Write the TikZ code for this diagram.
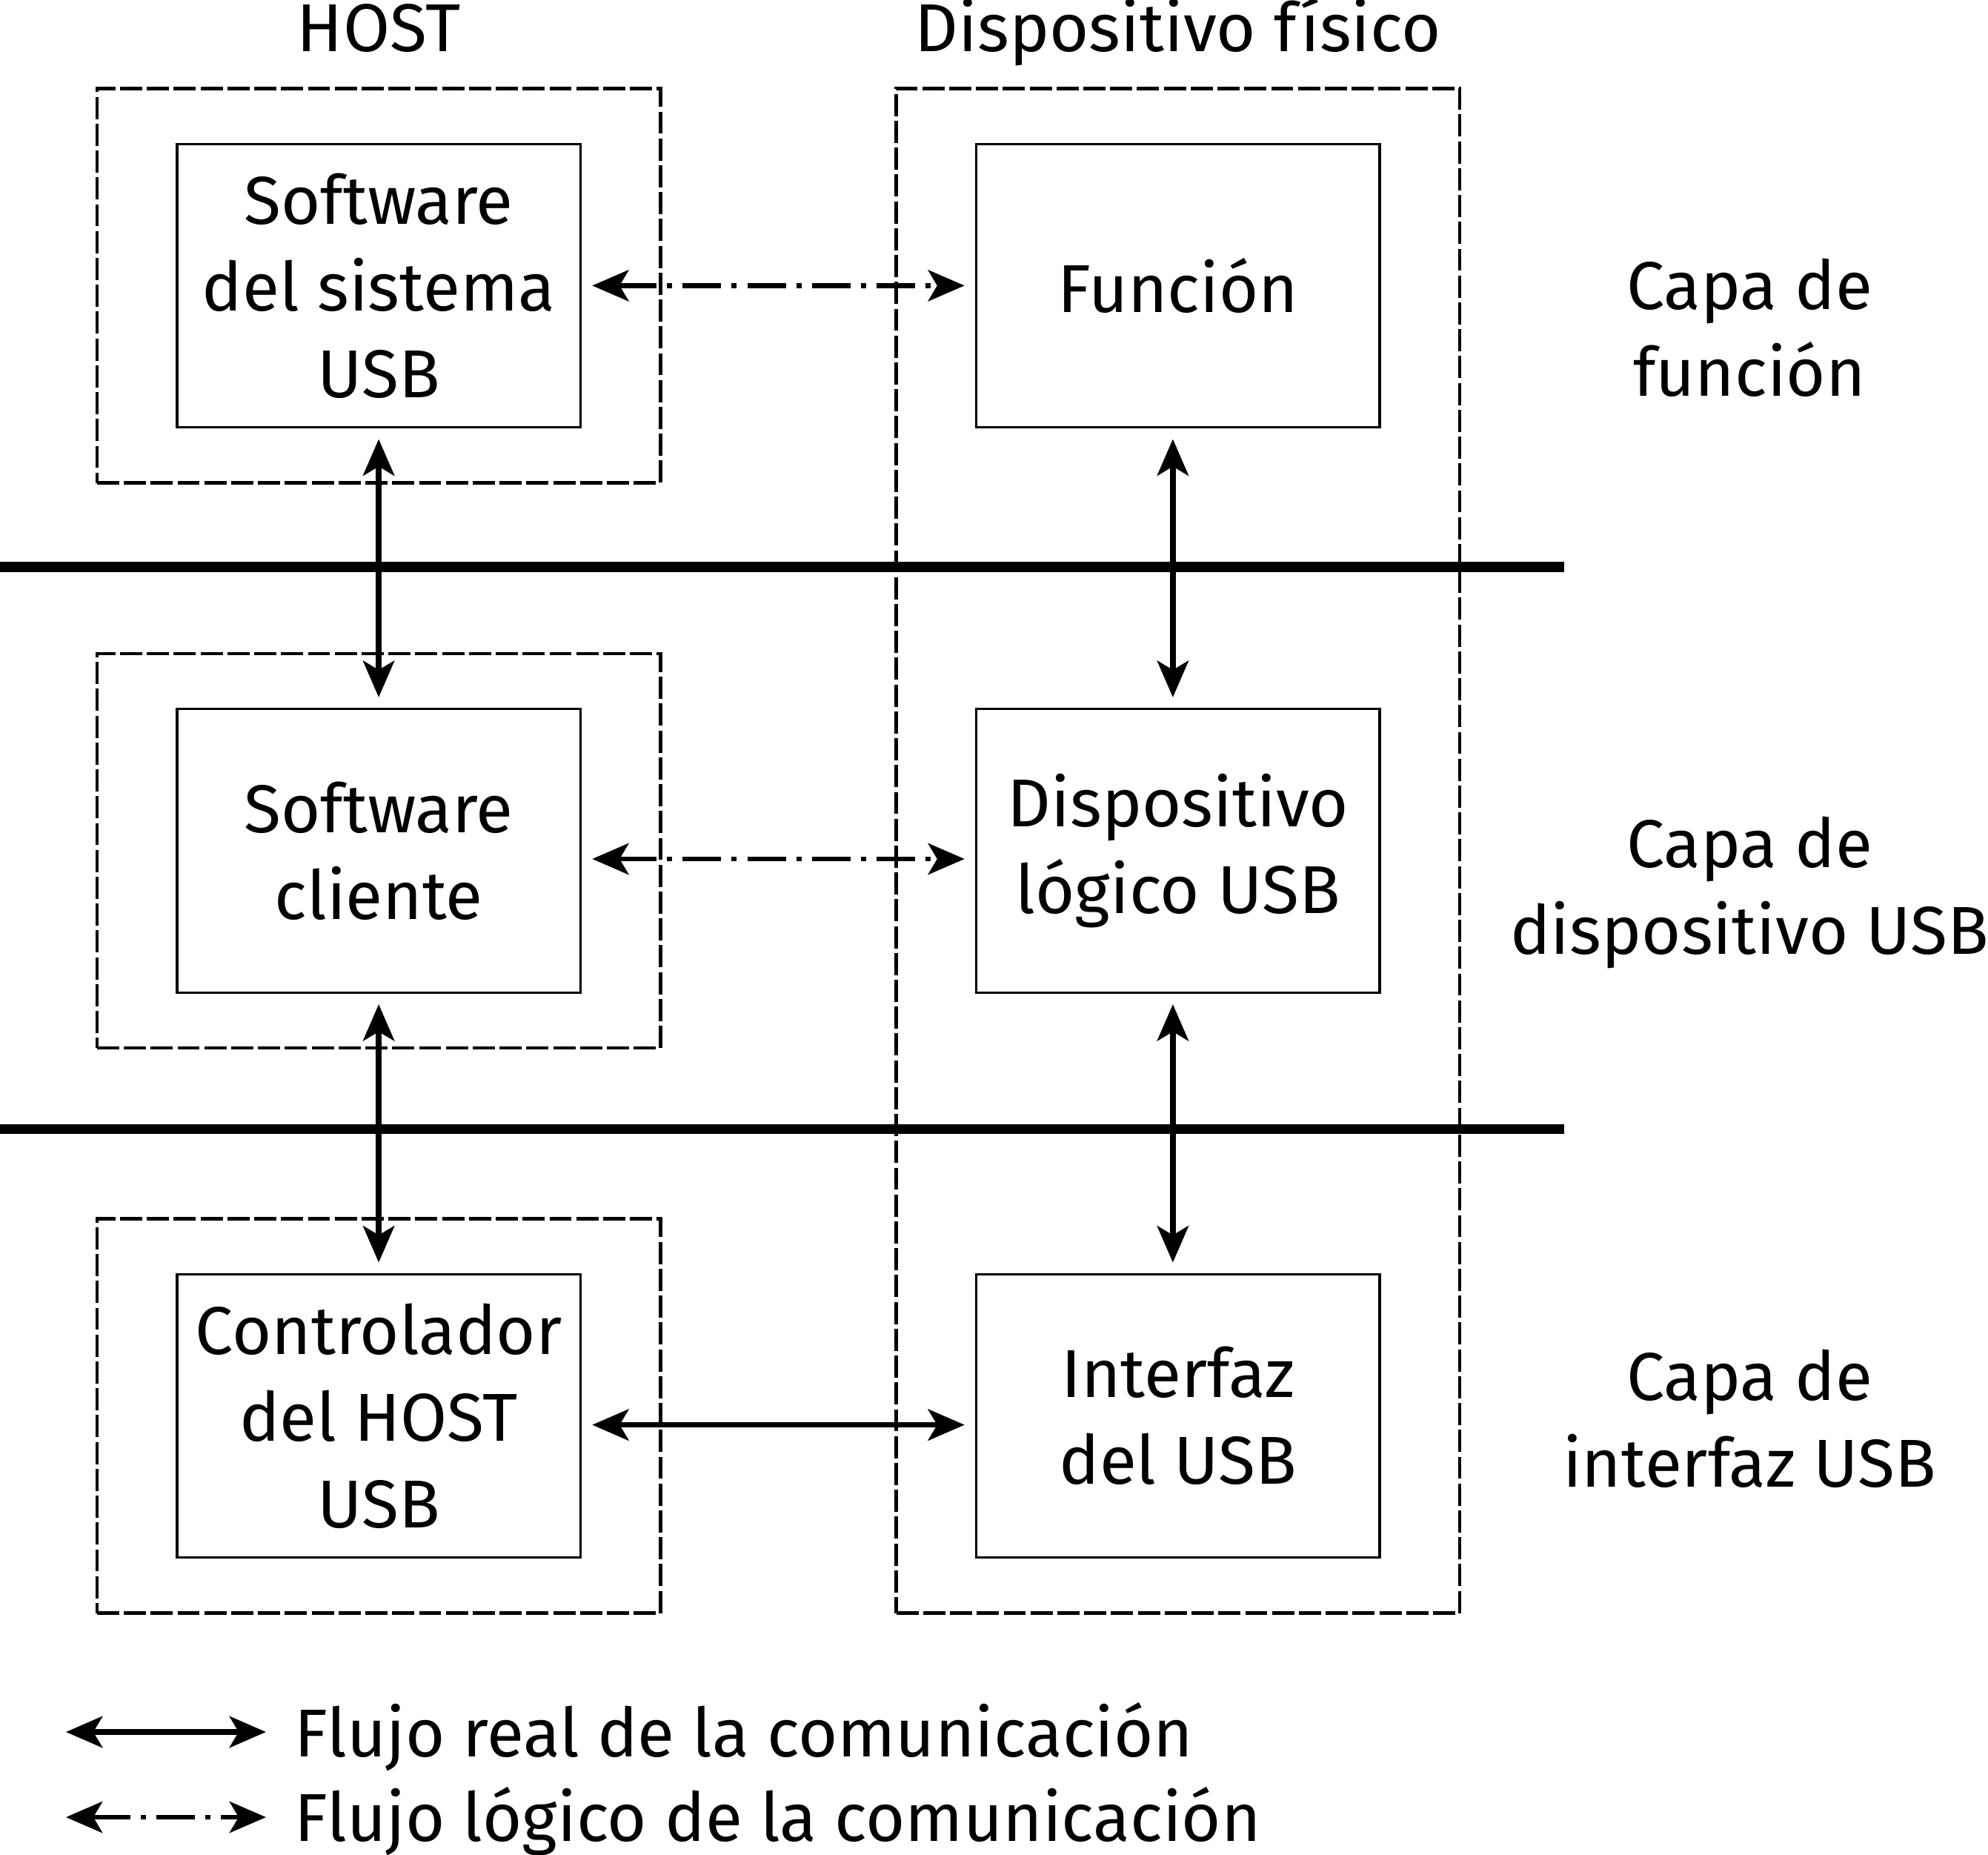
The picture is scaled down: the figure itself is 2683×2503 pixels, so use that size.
\documentclass[tikz,border=0pt]{standalone}
\usepackage{fontspec}
\setmainfont{Fira Sans}
\usetikzlibrary{arrows.meta,fit,positioning}
\tikzset{
  >={Stealth[length=14pt,width=12pt,inset=3.5pt]},
  caja/.style={draw, line width=0.9pt, minimum width=5.44cm, minimum height=3.82cm,
    align=center, inner sep=0pt, outer sep=0pt},
  grupo/.style={draw, line width=1.3pt, dash pattern=on 8.5pt off 1.8pt,
    inner xsep=1.08cm, inner ysep=0.75cm},
  real/.style={<->, line width=2.1pt, shorten >=0.16cm, shorten <=0.16cm},
  logico/.style={<->, line width=1.8pt, dash pattern=on 14.8pt off 4pt on 2pt off 4pt,
    shorten >=0.16cm, shorten <=0.16cm},
  separador/.style={line width=3.7pt},
  etiqueta/.style={align=center},
}

\begin{document}
\begin{tikzpicture}[x=0.01cm, y=-0.01cm, font=\fontsize{26}{33.3}\selectfont]
  \useasboundingbox (0,0) rectangle (2683,2503);

  \matrix (m) [row sep=3.77cm, column sep=5.31cm] at (1050.5,1148) {
    \node[caja] (sw) {Software\\del sistema\\USB}; & \node[caja] (fun) {Función}; \\
    \node[caja] (cli) {Software\\cliente}; & \node[caja] (disp) {Dispositivo\\lógico USB}; \\
    \node[caja] (ctrl) {Controlador\\del HOST\\USB}; & \node[caja] (intf) {Interfaz\\del USB}; \\
  };

  % grupos punteados
  \node[grupo, fit=(sw)] (g1) {};
  \node[grupo, fit=(cli)] (g2) {};
  \node[grupo, fit=(ctrl)] (g3) {};
  \node[grupo, fit=(fun) (intf)] (g4) {};

  \node[anchor=base] (host) at ([yshift=0.47cm]g1.north) {HOST};
  \node[anchor=base] (fis) at ([yshift=0.47cm]g4.north) {Dispositivo físico};

  % capas
  \draw[separador] (0,765) -- (2111,765);
  \draw[separador] (0,1523) -- (2111,1523);
  \node[etiqueta] (c1) at (2361,442) {Capa de\\función};
  \node[etiqueta] (c2) at (2361,1204) {Capa de\\dispositivo USB};
  \node[etiqueta] (c3) at (2361,1914) {Capa de\\interfaz USB};

  % flujos
  \draw[real] (sw) -- (cli);
  \draw[real] (cli) -- (ctrl);
  \draw[real] ([xshift=-0.07cm]fun.south) -- ([xshift=-0.07cm]disp.north);
  \draw[real] ([xshift=-0.07cm]disp.south) -- ([xshift=-0.07cm]intf.north);
  \draw[logico] (sw) -- (fun);
  \draw[logico] ([yshift=-0.11cm]cli.east) -- ([yshift=-0.11cm]disp.west);
  \draw[real] ([yshift=-0.12cm]ctrl.east) -- ([yshift=-0.12cm]intf.west);

  % leyenda
  \coordinate (r1) at (89,2337);
  \coordinate (r2) at (359,2337);
  \coordinate (l1) at (89,2452);
  \coordinate (l2) at (359,2452);
  \draw[real, shorten >=0pt, shorten <=0pt] (r1) -- (r2);
  \draw[logico, shorten >=0pt, shorten <=0pt] (l1) -- (l2);
  \node[anchor=base west, inner sep=0pt] (t1) at (397,2370) {Flujo real de la comunicación};
  \node[anchor=base west, inner sep=0pt] (t2) at (397,2484) {Flujo lógico de la comunicación};
\end{tikzpicture}
\end{document}
